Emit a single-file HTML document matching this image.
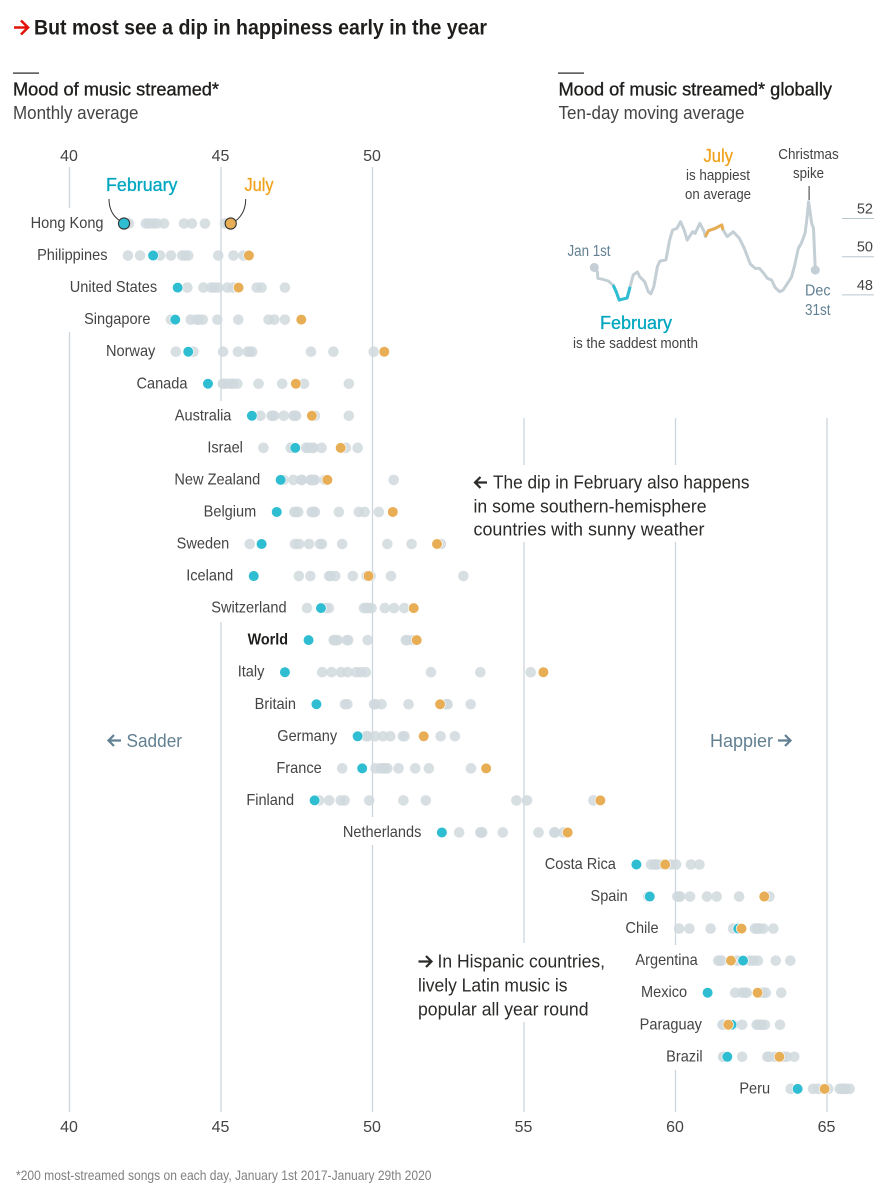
<!DOCTYPE html>
<html lang="en">
<head>
<meta charset="utf-8">
<title>But most see a dip in happiness early in the year</title>
<style>
html,body{margin:0;padding:0;background:#fff;width:886px;height:1200px;overflow:hidden}
svg{display:block}
text{font-family:"Liberation Sans",sans-serif}
.title{font-size:21px;font-weight:700;fill:#1f1e1c}
.sub{font-size:18.5px;fill:#1f1e1c;stroke:#1f1e1c;stroke-width:.35px}
.subl{font-size:18.5px;fill:#444}
.tick{font-size:16px;fill:#444;text-anchor:middle}
.note{font-size:18.5px;fill:#2b2a28}
.side{font-size:18px;fill:#628092}
.small{font-size:14.5px;fill:#444;text-anchor:middle}
.blue{font-size:15.5px;fill:#628092}
.feb{font-size:18.5px;fill:#00a7c0;stroke:#00a7c0;stroke-width:.3px}
.jul{font-size:18.5px;fill:#f0a21c;stroke:#f0a21c;stroke-width:.3px}
</style>
</head>
<body>
<svg id="chart" xmlns="http://www.w3.org/2000/svg" width="886" height="1200" viewBox="0 0 886 1200">
  <rect x="0" y="0" width="886" height="1200" fill="#fff"/>
  <g>
    <path d="M14 27.5H27M21 20.5L28 27.5L21 34.5" fill="none" stroke="#e3120b" stroke-width="2.6"/>
    <text class="title" x="34" y="34.5" textLength="453" lengthAdjust="spacingAndGlyphs">But most see a dip in happiness early in the year</text>
  </g>
  <rect x="13" y="72.5" width="26" height="1.2" fill="#222"/>
  <text class="sub" x="13" y="95.5" textLength="206" lengthAdjust="spacingAndGlyphs">Mood of music streamed*</text>
  <text class="subl" x="13" y="119" textLength="125.500" lengthAdjust="spacingAndGlyphs">Monthly average</text>
  <rect x="558" y="72.5" width="26" height="1.2" fill="#222"/>
  <text class="sub" x="558.500" y="95.5" textLength="273.500" lengthAdjust="spacingAndGlyphs">Mood of music streamed* globally</text>
  <text class="subl" x="558.500" y="119" textLength="186" lengthAdjust="spacingAndGlyphs">Ten-day moving average</text>

  <g id="grid"></g>
  <g id="ticks"></g>
  <g id="labels"></g>
  <g id="dots"></g>

  <text class="feb" x="106" y="191" textLength="71.500" lengthAdjust="spacingAndGlyphs">February</text>
  <text class="jul" x="244.500" y="191" textLength="29" lengthAdjust="spacingAndGlyphs">July</text>
  <path d="M109 199C109 209 113 216 119.500 220.500" fill="none" stroke="#333" stroke-width="1"/>
  <path d="M245.700 199C245.700 209 242 216 235.500 221" fill="none" stroke="#333" stroke-width="1"/>

  <g>
    <path d="M487 482.500H475.500M480.500 477L475 482.500L480.500 488" fill="none" stroke="#2b2a28" stroke-width="2.200"/>
    <text class="note" x="493" y="488.500" textLength="256.500" lengthAdjust="spacingAndGlyphs">The dip in February also happens</text>
    <text class="note" x="473.500" y="512.500" textLength="233" lengthAdjust="spacingAndGlyphs">in some southern-hemisphere</text>
    <text class="note" x="473.500" y="535.500" textLength="231" lengthAdjust="spacingAndGlyphs">countries with sunny weather</text>
  </g>
  <g>
    <path d="M418.500 961.500H431M426 956L431.500 961.500L426 967" fill="none" stroke="#2b2a28" stroke-width="2.200"/>
    <text class="note" x="437.500" y="967.500" textLength="167.500" lengthAdjust="spacingAndGlyphs">In Hispanic countries,</text>
    <text class="note" x="418" y="991.500" textLength="149.500" lengthAdjust="spacingAndGlyphs">lively Latin music is</text>
    <text class="note" x="418" y="1015.500" textLength="170.500" lengthAdjust="spacingAndGlyphs">popular all year round</text>
  </g>
  <g>
    <path d="M121 740.500H108.500M114 735L108.500 740.500L114 746" fill="none" stroke="#628092" stroke-width="2.200"/>
    <text class="side" x="126.500" y="747" textLength="55.500" lengthAdjust="spacingAndGlyphs">Sadder</text>
  </g>
  <g>
    <text class="side" x="710" y="747" textLength="63" lengthAdjust="spacingAndGlyphs">Happier</text>
    <path d="M778 740.500H790.500M785 735L790.500 740.500L785 746" fill="none" stroke="#628092" stroke-width="2.200"/>
  </g>

  <g id="lineYAxis"></g>
  <g id="linePlot"></g>
  <text class="jul" x="703.500" y="162" textLength="29.500" lengthAdjust="spacingAndGlyphs">July</text>
  <text class="small" x="718" y="180" textLength="64" lengthAdjust="spacingAndGlyphs">is happiest</text>
  <text class="small" x="718" y="199" textLength="66" lengthAdjust="spacingAndGlyphs">on average</text>
  <text class="small" x="808.500" y="159" textLength="60.500" lengthAdjust="spacingAndGlyphs">Christmas</text>
  <text class="small" x="808.500" y="178" textLength="31" lengthAdjust="spacingAndGlyphs">spike</text>
  <rect x="808.600" y="186" width="1" height="14" fill="#333"/>
  <text class="blue" x="567.500" y="256" textLength="43" lengthAdjust="spacingAndGlyphs">Jan 1st</text>
  <text class="blue" x="805" y="295.500" textLength="25.500" lengthAdjust="spacingAndGlyphs">Dec</text>
  <text class="blue" x="805" y="315" textLength="25.500" lengthAdjust="spacingAndGlyphs">31st</text>
  <text class="feb" x="600" y="329" textLength="72" lengthAdjust="spacingAndGlyphs">February</text>
  <text class="small" x="635.500" y="348" textLength="125" lengthAdjust="spacingAndGlyphs">is the saddest month</text>

  <text x="16" y="1180" font-size="14" fill="#808080" textLength="415.500" lengthAdjust="spacingAndGlyphs">*200 most-streamed songs on each day, January 1st 2017-January 29th 2020</text>
</svg>
<script>
// ---- dot plot data ----
const countries = ["Hong Kong","Philippines","United States","Singapore","Norway","Canada","Australia","Israel","New Zealand","Belgium","Sweden","Iceland","Switzerland","World","Italy","Britain","Germany","France","Finland","Netherlands","Costa Rica","Spain","Chile","Argentina","Mexico","Paraguay","Brazil","Peru"];
const februaryValues = [41.8,42.76,43.57,43.49,43.92,44.57,46.02,47.45,46.97,46.84,46.34,46.08,48.3,47.89,47.11,48.15,49.51,49.66,48.09,52.29,58.71,59.15,62.07,62.23,61.06,61.85,61.71,64.03];
const julyValues = [45.32,45.92,45.58,47.65,50.39,47.47,48,48.95,48.51,50.67,52.13,49.87,51.36,51.46,55.64,52.23,51.69,53.75,57.52,56.44,59.66,62.93,62.18,61.83,62.71,61.74,63.43,64.92];
const otherMonthValues = [
  [41.96,42.52,42.62,42.76,42.88,43.12,43.78,44.04,44.47,45.13],
  [41.93,42.33,42.99,43.35,43.72,43.82,43.92,44.91,45.41,45.74],
  [43.89,44.42,44.68,44.78,44.91,45.21,45.4,46.18,46.34,47.11],
  [43.35,44,44.2,44.27,44.4,44.88,45.57,46.57,46.76,47.11],
  [43.51,44.09,45.07,45.56,45.88,45.96,46.03,47.97,48.71,50.04],
  [45.06,45.1,45.21,45.35,45.4,45.54,46.24,47.02,47.74,49.22],
  [46.3,46.67,46.71,46.75,47.07,47.39,47.45,47.48,48.1,49.22],
  [46.4,47.3,47.37,47.81,47.87,48.01,48.05,48.32,49.12,49.51],
  [47.06,47.39,47.65,47.67,47.96,47.99,48.05,48.1,48.43,50.7],
  [47.42,47.47,47.55,47.99,48.05,48.1,48.89,49.55,49.74,50.21],
  [45.95,47.44,47.58,47.91,48.27,48.33,49,50.49,51.29,52.26],
  [47.57,47.95,48.57,48.62,48.77,49.35,49.81,49.94,50.61,53],
  [47.84,48.45,48.56,49.72,49.8,49.86,49.97,50.41,50.71,51.05],
  [48.72,48.75,48.8,48.85,49.16,49.2,49.84,51.1,51.15,51.35],
  [48.34,48.65,48.96,49.18,49.46,49.61,49.78,51.93,53.56,55.22],
  [49.09,49.17,50.05,50.1,50.3,51.19,52.43,52.45,52.48,53.24],
  [49.79,49.85,50.09,50.35,50.59,51,51.06,52.25,52.72],
  [49,50.1,50.27,50.36,50.41,50.49,50.86,51.41,51.86,53.25],
  [48.24,48.57,48.95,49.08,49.89,51.02,51.76,54.75,55.1,57.29],
  [52.86,53.56,53.58,53.6,53.62,54.3,55.48,56,56.02,56.3],
  [59.19,59.3,59.35,59.4,59.58,59.71,59.85,60.02,60.51,60.79],
  [59.1,60.06,60.12,60.15,60.48,61.04,61.36,62.1,62.95,63.1],
  [60.12,60.46,61.16,61.9,62.62,62.67,62.73,62.78,62.9,63.23],
  [61.41,61.47,61.52,62.02,62.12,62.46,62.57,62.72,63.31,63.79],
  [61.97,62.2,62.3,62.35,62.8,62.9,62.98,63.49],
  [61.55,61.58,61.9,62.2,62.68,62.74,62.79,62.85,62.95,63.45],
  [61.57,61.6,62.2,63.03,63.1,63.28,63.4,63.56,63.67,63.92],
  [63.8,64.54,64.71,65.04,65.42,65.48,65.53,65.59,65.62,65.75]
];
const xTickValues = [40,45,50,55,60,65];
const topTickValues = [40,45,50];
const boldCountry = "World";

// ---- line chart data ----
const lineDays = [0,5,6,12,23,31,36,41,47,54,59,64,71,75,83,89,93,98,104,108,118,124,129,136,142,148,153,162,166,174,181,183,188,199,210,212,219,229,239,247,257,265,272,279,285,292,298,305,311,320,325,330,336,341,347,350,353,358,361,364];
const lineMood = [49.44,49.21,48.87,48.83,48.73,48.52,48.17,47.73,47.78,47.84,48.43,49.04,49.2,48.95,48.69,48.17,48.05,48.43,49.48,49.77,49.83,50.87,51.4,51.48,51.83,51.4,50.87,51.31,51.22,51.75,51.31,51.05,51.36,51.48,51.66,51.4,51.05,51.31,50.96,50.44,49.62,49.39,49.39,49.13,48.87,48.78,48.38,48.17,48.25,48.69,48.95,49.56,50.44,50.7,51.22,51.92,52.88,51.75,51.48,49.3];
const lineYTicks = [48,50,52];
const februaryDays = [31,59];
const julyDays = [183,212];

// ---- scales ----
function xScale(v){ return 69.5 + (v - 40) * 30.3; }
function rowY(i){ return 223.5 + i * 32.05; }
function dayX(d){ return 594.3 + d * 221 / 364; }
function moodY(v){ return 256.7 - (v - 50) * 19.1; }

const NS = "http://www.w3.org/2000/svg";
function mk(tag, parent, attrs, text){
  const el = document.createElementNS(NS, tag);
  for (const k in attrs) el.setAttribute(k, attrs[k]);
  if (text !== undefined) el.textContent = text;
  parent.appendChild(el);
  return el;
}

// gridlines with gaps left around labels and annotations
function gridSpans(tick){
  if (tick === 40) return [[167,208],[332,1112]];
  if (tick === 45) return [[167,401],[622,1112]];
  if (tick === 50) return [[167,817],[845,1112]];
  if (tick === 55) return [[418,465],[542,943],[1022,1112]];
  if (tick === 60) return [[418,465],[542,945],[1070,1112]];
  return [[418,1112]];
}
const gridG = document.getElementById("grid");
xTickValues.forEach(function(t){
  gridSpans(t).forEach(function(s){
    const line = mk("line", gridG, {x1:xScale(t), x2:xScale(t), y1:s[0], y2:s[1], stroke:"#ccd6dc", "stroke-width":1.3});
    
    
  });
});

// axis tick labels
const ticksG = document.getElementById("ticks");
topTickValues.forEach(function(t){
  const label = mk("text", ticksG, {class:"tick", x:xScale(t)-0.5, y:161}, String(t));
  
  
});
xTickValues.forEach(function(t){
  const label = mk("text", ticksG, {class:"tick", x:xScale(t)-0.5, y:1132}, String(t));
  
  
});

// country rows
const labelsG = document.getElementById("labels");
const dotsG = document.getElementById("dots");
countries.forEach(function(name, i){
  const y = rowY(i);
  const minV = Math.min(februaryValues[i], julyValues[i], Math.min.apply(null, otherMonthValues[i]));
  const isBold = name === boldCountry;
  const label = mk("text", labelsG, {x:xScale(minV)-20.5, y:y+4.5, "text-anchor":"end", "font-size":16, "font-weight":isBold?700:400, fill:isBold?"#1f1e1c":"#444"}, name);
  
  
  const w = label.getComputedTextLength();
  label.setAttribute("textLength", (w * (isBold ? 0.9 : 0.91)).toFixed(1));
  label.setAttribute("lengthAdjust", "spacingAndGlyphs");

  otherMonthValues[i].forEach(function(v){
    const dot = mk("circle", dotsG, {cx:xScale(v), cy:y, r:5.3, fill:"#d0d9de", "fill-opacity":0.85});
    
    
  });
  const highlight = i === 0;
  const feb = mk("circle", dotsG, {cx:xScale(februaryValues[i]), cy:y, r:highlight?5.6:5.3, fill:"#2ebdd1", stroke:highlight?"#333":"#fff", "stroke-width":highlight?1.1:0.6});
  
  
  const jul = mk("circle", dotsG, {cx:xScale(julyValues[i]), cy:y, r:highlight?5.6:5.3, fill:"#e8ae55", stroke:highlight?"#333":"#fff", "stroke-width":highlight?1.1:0.6});
  
  
});

// line chart y axis
const yG = document.getElementById("lineYAxis");
lineYTicks.forEach(function(t){
  const rule = mk("line", yG, {x1:842, x2:874, y1:moodY(t), y2:moodY(t), stroke:"#b9c7cf", "stroke-width":1});
  
  
  const label = mk("text", yG, {x:873, y:moodY(t)-5, "text-anchor":"end", "font-size":14.5, fill:"#444"}, String(t));
  
  
});

// line chart series
function linePath(from, to){
  let d = "";
  lineDays.forEach(function(day, i){
    if (day < from || day > to) return;
    d += (d ? "L" : "M") + dayX(day).toFixed(1) + " " + moodY(lineMood[i]).toFixed(1);
  });
  return d;
}
const plotG = document.getElementById("linePlot");
const fullLine = mk("path", plotG, {d:linePath(0,364), fill:"none", stroke:"#c3cfd5", "stroke-width":3, "stroke-linejoin":"round", "stroke-linecap":"round"});


const febLine = mk("path", plotG, {d:linePath(februaryDays[0],februaryDays[1]), fill:"none", stroke:"#2ebdd1", "stroke-width":3, "stroke-linejoin":"round"});


const julLine = mk("path", plotG, {d:linePath(julyDays[0],julyDays[1]), fill:"none", stroke:"#e8ae55", "stroke-width":3, "stroke-linejoin":"round"});


const startDot = mk("circle", plotG, {cx:dayX(lineDays[0]), cy:moodY(lineMood[0]), r:4.5, fill:"#c3cfd5"});


const lastIndex = lineDays.length - 1;
const endDot = mk("circle", plotG, {cx:dayX(lineDays[lastIndex]), cy:moodY(lineMood[lastIndex]), r:4.5, fill:"#c3cfd5"});


</script>
</body>
</html>
